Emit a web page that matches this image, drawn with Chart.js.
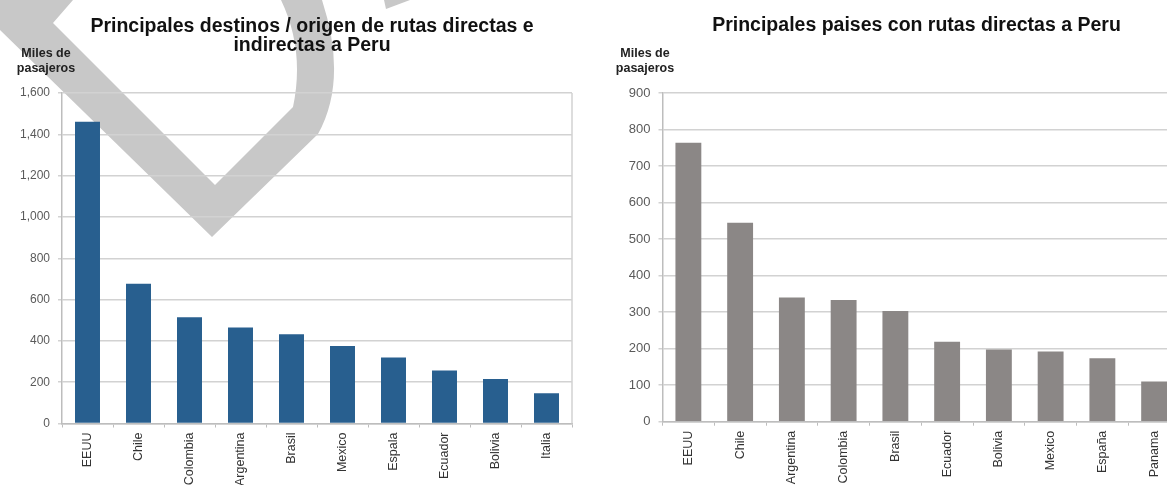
<!DOCTYPE html>
<html>
<head>
<meta charset="utf-8">
<script src="https://cdn.jsdelivr.net/npm/chart.js@4.4.1/dist/chart.umd.min.js"></script>
<style>
  html, body { margin: 0; padding: 0; background: #fff; }
  body { width: 1167px; height: 485px; overflow: hidden; position: relative; font-family: "Liberation Sans", Arial, sans-serif; }
  #mark { position: absolute; left: 0; top: 0; z-index: 0; }
  .box { position: absolute; top: 0; height: 485px; z-index: 1; }
  #leftBox { left: 0; width: 580px; }
  #rightBox { left: 590px; width: 600px; }
  .title { position: absolute; z-index: 2; font-weight: bold; font-size: 19.5px; line-height: 18.5px; color: #111; text-align: center; white-space: nowrap; }
  .unit { position: absolute; z-index: 2; font-weight: bold; font-size: 12.5px; line-height: 15px; color: #222; text-align: center; width: 70px; }
</style>
</head>
<body>
<svg id="mark" width="600" height="260">
  <path d="M0,0 L73,0 L53,23 L215,185 L293,107 Q305,50 281,0 L322,0 Q348,80 318,134 L212,237 L0,30 Z" fill="#c8c8c8"/>
  <path d="M384,0 L410,0 L386,9 Z" fill="#c8c8c8"/>
</svg>
<div class="box" id="leftBox"><canvas id="leftChart"></canvas></div>
<div class="box" id="rightBox"><canvas id="rightChart"></canvas></div>

<div class="title" style="left:57px; width:510px; top:16px;">Principales destinos / origen de rutas directas e<br>indirectas a Peru</div>
<div class="title" style="left:658px; width:517px; top:15px;">Principales paises con rutas directas a Peru</div>
<div class="unit" style="left:11px; top:46px;">Miles de<br>pasajeros</div>
<div class="unit" style="left:610px; top:46px;">Miles de<br>pasajeros</div>

<script>
// datos
const leftLabels = ["EEUU", "Chile", "Colombia", "Argentina", "Brasil", "Mexico", "Espala", "Ecuador", "Bolivia", "Italia"];
const leftValues = [1461, 676, 514, 465, 432, 375, 319, 256, 215, 147];

const rightLabels = ["EEUU", "Chile", "Argentina", "Colombia", "Brasil", "Ecuador", "Bolivia", "Mexico", "España", "Panama"];
const rightValues = [764, 545, 340, 333, 303, 219, 198, 192, 174, 110];

const FONT = '"Liberation Sans", Arial, sans-serif';
const GRID = "#d2d2d2";

// linea derecha del area del grafico
const frameRight = {
  id: "frameRight",
  beforeDatasetsDraw(chart) {
    const a = chart.chartArea;
    const ctx = chart.ctx;
    ctx.save();
    ctx.strokeStyle = GRID;
    ctx.lineWidth = 1.5;
    ctx.beginPath();
    ctx.moveTo(a.right, a.top);
    ctx.lineTo(a.right, a.bottom);
    ctx.stroke();
    ctx.restore();
  },
};

function makeChart(id, labels, values, color, opts) {
  const ctx = document.getElementById(id).getContext("2d");
  return new Chart(ctx, {
    type: "bar",
    data: {
      labels: labels,
      datasets: [
        {
          data: values,
          backgroundColor: color,
          borderWidth: 0,
          categoryPercentage: 1,
          barPercentage: opts.barPct,
        },
      ],
    },
    options: {
      responsive: true,
      maintainAspectRatio: false,
      animation: false,
      layout: { padding: { top: 93, right: opts.padRight, bottom: 0, left: 0 } },
      plugins: { legend: { display: false }, tooltip: { enabled: false } },
      scales: {
        x: {
          grid: { drawOnChartArea: false, drawTicks: true, tickLength: 4, color: "#bdbdbd", lineWidth: 1 },
          border: { color: "#bdbdbd", width: 1.5 },
          ticks: {
            autoSkip: false,
            minRotation: 90,
            maxRotation: 90,
            padding: 5,
            color: "#333",
            font: { family: FONT, size: 12.5 },
          },
          afterFit(scale) {
            scale.height = opts.xHeight;
          },
        },
        y: {
          min: 0,
          max: opts.max,
          ticks: {
            stepSize: opts.step,
            padding: 8,
            color: "#5a5a5a",
            font: { family: FONT, size: opts.yFont },
          },
          grid: { color: GRID, lineWidth: 1.5, tickLength: 4 },
          border: { color: "#bdbdbd", width: 1.5 },
          afterFit(scale) {
            scale.width = opts.yWidth;
          },
        },
      },
    },
    plugins: [frameRight],
  });
}

makeChart("leftChart", leftLabels, leftValues, "#285f8f", {
  barPct: 0.49, max: 1600, step: 200, yWidth: 62, xHeight: 61.5, padRight: 8, yFont: 12,
});
makeChart("rightChart", rightLabels, rightValues, "#8b8786", {
  barPct: 0.5, max: 900, step: 100, yWidth: 72.5, xHeight: 63.3, padRight: 10, yFont: 13,
});
</script>
</body>
</html>
